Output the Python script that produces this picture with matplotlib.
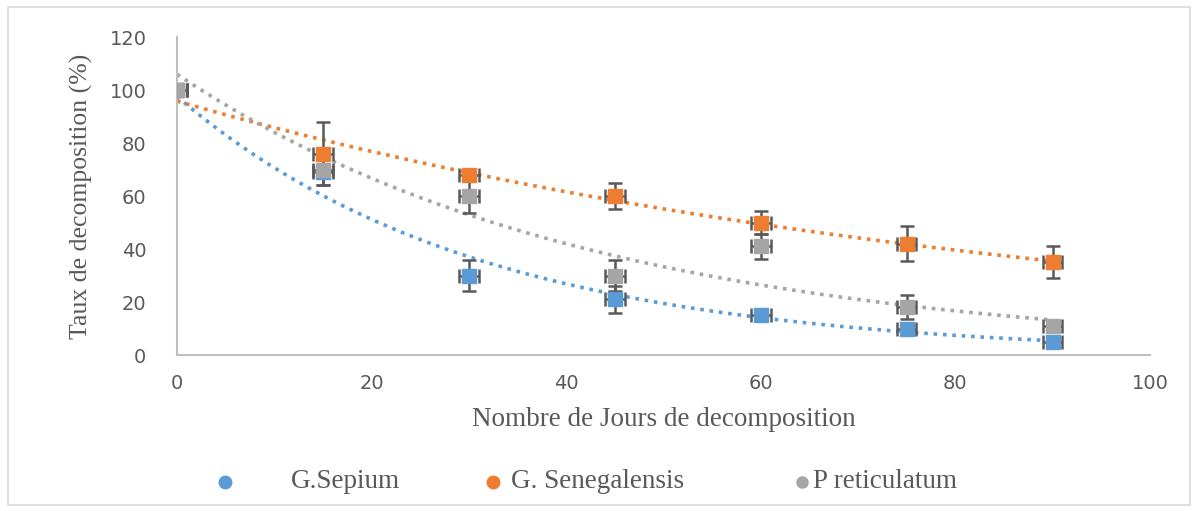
import numpy as np
import matplotlib
matplotlib.use("Agg")
import matplotlib.pyplot as plt
from matplotlib.patches import Rectangle
from matplotlib.lines import Line2D

days = [0, 15, 30, 45, 60, 75, 90]
series_names = ["G.Sepium", "G. Senegalensis", "P reticulatum"]
sepium = [100, 69, 30, 21, 15, 10, 5]
sepium_err = [0, 2, 6, 5, 2, 2, 1]
senegalensis = [100, 76, 68, 60, 50, 42, 35]
senegalensis_err = [0, 12, 1, 5, 4.5, 6.5, 6]
reticulatum = [100, 70, 60, 30, 41, 18, 11]
reticulatum_err = [0, 6, 6.5, 6, 4.7, 4.5, 1]
colors = ["#5B9BD5", "#ED7D31", "#A5A5A5"]

W, H = 1196, 511
fig = plt.figure(figsize=(W / 100, H / 100), dpi=100)
fig.patches.append(Rectangle((8/W, 6/H), 1182/W, 498/H, transform=fig.transFigure,
                             fill=False, edgecolor="#D9D9D9", linewidth=1.2))
ax = fig.add_axes([177/W, 1-355/H, (1150-177)/W, (355-37)/H])

x = np.array(days, dtype=float)
xs = np.linspace(0, 90, 200)
all_y = [sepium, senegalensis, reticulatum]
all_e = [sepium_err, senegalensis_err, reticulatum_err]

# trendlines (exponential fits, like Excel)
for y, c in zip(all_y, colors):
    b, lna = np.polyfit(x, np.log(np.array(y, dtype=float)), 1)
    ax.plot(xs, np.exp(lna + b * xs), linestyle=(0, (1, 1.6)), color=c, linewidth=2.6, zorder=2)

for y, e, c in zip(all_y, all_e, colors):
    ax.errorbar(x, y, yerr=e, xerr=1.0, fmt="s", color=c, markersize=10,
                markeredgecolor=c, ecolor="#595959", elinewidth=1.8, capsize=5,
                capthick=1.8, zorder=3)

ax.set_xlim(0, 100)
ax.set_ylim(0, 120)
ax.set_xticks(range(0, 101, 20))
ax.set_yticks(range(0, 121, 20))
ax.tick_params(length=0, labelsize=14, labelcolor="#595959")
ax.tick_params(axis="y", pad=22)
ax.tick_params(axis="x", pad=14)
for lab in ax.get_xticklabels() + ax.get_yticklabels():
    lab.set_family("DejaVu Sans")
for s in ["top", "right"]:
    ax.spines[s].set_visible(False)
for s in ["left", "bottom"]:
    ax.spines[s].set_color("#BFBFBF")
    ax.spines[s].set_linewidth(1.5)

ax.set_xlabel("Nombre de Jours de decomposition", family="Liberation Serif", fontsize=19.5,
              color="#595959", labelpad=10)
ax.set_ylabel("Taux de decomposition (%)", family="Liberation Serif", fontsize=18.5,
              color="#595959", labelpad=12)

# legend (bottom)
leg_y = 1 - 482/H
marker_x = [225, 493, 802]
text_x = [291, 511, 813]
marker_sizes = [9, 9, 8]
for name, c, mx, tx, ms in zip(series_names, colors, marker_x, text_x, marker_sizes):
    fig.add_artist(Line2D([mx/W], [leg_y], marker="o", linestyle="none", color=c,
                          markersize=ms, transform=fig.transFigure))
    fig.text(tx/W, leg_y, name, ha="left", va="center", family="Liberation Serif",
             fontsize=19.5, color="#595959")

fig.savefig("out.png", dpi=100)
